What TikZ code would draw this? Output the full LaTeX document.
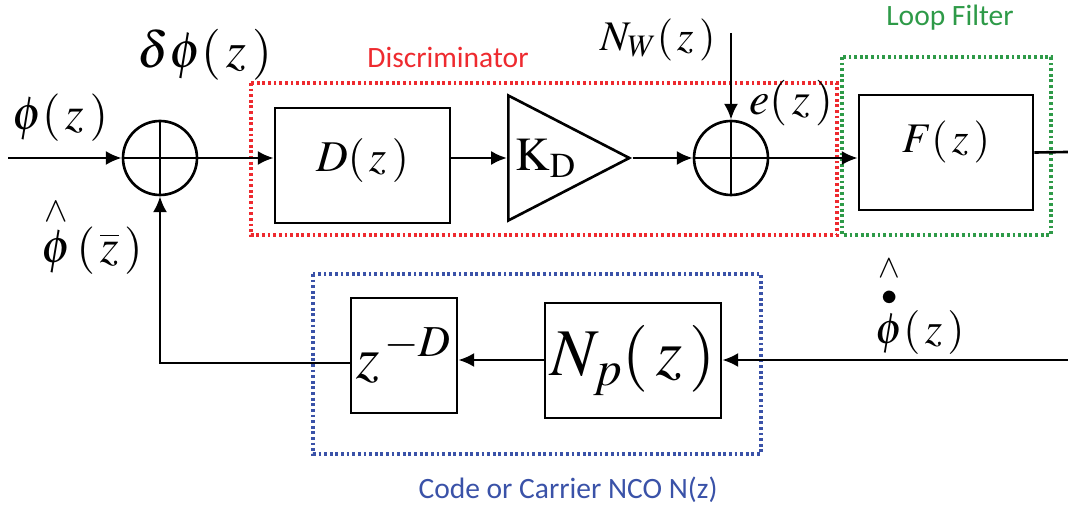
\documentclass[tikz,border=0pt]{standalone}
\usepackage{amsmath,amssymb}
\usepackage{mathptmx}
\usepackage{fontspec}
\newfontfamily\calibri{Carlito}
\usetikzlibrary{calc,positioning,shapes.geometric,arrows.meta}
\definecolor{DiscRed}{HTML}{EE2A2F}
\definecolor{FiltGreen}{HTML}{2E9A48}
\definecolor{NcoBlue}{HTML}{3A52A8}
\newcommand{\argsp}{\mkern2mu}
\tikzset{
  blockNode/.style={rectangle, draw=black, line width=1.5pt, minimum height=2.3cm, inner sep=0pt, font=\fontsize{25pt}{30pt}\selectfont},
  sumNode/.style={circle, draw=black, line width=1.5pt, minimum size=1.48cm, inner sep=0pt,
    path picture={\draw[line width=1.5pt] (path picture bounding box.north) -- (path picture bounding box.south)
      (path picture bounding box.west) -- (path picture bounding box.east);}},
  gainNode/.style={isosceles triangle, isosceles triangle stretches, shape border rotate=0, draw=black, line width=1.5pt, minimum width=2.5cm, minimum height=2.42cm, inner sep=0pt, font=\fontsize{27pt}{30pt}\selectfont},
  signal/.style={-{Latex[length=9pt,width=8pt]}, line width=1.5pt},
  wire/.style={line width=1.5pt},
  groupBox/.style={line width=1.8pt, dash pattern=on 1.6pt off 1.6pt},
  sigLabel/.style={font=\fontsize{27pt}{32pt}\selectfont},
  groupLabel/.style={font=\calibri\fontsize{16.8pt}{20pt}\selectfont}
}

\begin{document}
\begin{tikzpicture}[x=0.02cm, y=-0.02cm]
  \useasboundingbox (0,0) rectangle (1068,506);

  % Grupos
  \draw[groupBox, draw=DiscRed] (251,83) rectangle (837,235);
  \draw[groupBox, draw=FiltGreen] (842,57) rectangle (1051,235);
  \draw[groupBox, draw=NcoBlue] (313,274) rectangle (761,454);
  \node[groupLabel, text=DiscRed] (discLbl) at (448,57) {Discriminator};
  \node[groupLabel, text=FiltGreen] (filtLbl) at (950,18) {Loop Filter};
  \node[groupLabel, text=NcoBlue] (ncoLbl) at (568,490) {Code or Carrier NCO N(z)};

  % Sumadores
  \node[sumNode] (sum1) at (160,158) {};
  \node[sumNode] (sum2) at (731,158) {};

  % Bloques
  \node[blockNode, minimum width=3.5cm, text depth=0.4cm] (dBox) at (362.5,165.5) {$D(\argsp z\argsp)$};
  \node[gainNode, anchor=west] (kd) at (507,158) {$\mathrm{K}_{\mathrm{D}}$};
  \node[blockNode, minimum width=3.48cm, text depth=0.65cm, font=\fontsize{24pt}{30pt}\selectfont] (fBox) at (946,152.5) {$F(\argsp z\argsp)$};
  \node[blockNode, minimum width=2.12cm, font=\fontsize{34pt}{40pt}\selectfont] (zdBox) at (404,355.5) {$z^{\,-D}$};
  \node[blockNode, minimum width=3.52cm, font=\fontsize{38pt}{44pt}\selectfont] (npBox) at (633,360.5) {$N_p(\argsp z\argsp)$};

  % Extremos
  \coordinate (in) at (8,158);
  \coordinate (nw) at (731,33);
  \coordinate (fOut) at (1068,152);
  \coordinate (ncoIn) at (1068,360);

  % Conexiones
  \draw[signal] (in) -- (sum1.west);
  \draw[signal] (sum1.east) -- (sum1.east -| dBox.west);
  \draw[signal] (dBox.east |- kd.west) -- (kd.west);
  \draw[signal] (kd.apex) -- (kd.apex -| sum2.west);
  \draw[signal] (nw) -- (sum2.north);
  \draw[signal] (sum2.east) -- (sum2.east -| fBox.west);
  \draw[wire] (fBox.east) -- (fOut);
  \draw[signal] (ncoIn) -- (ncoIn -| npBox.east);
  \draw[signal] (ncoIn -| npBox.west) -- (ncoIn -| zdBox.east);
  \draw[signal] (zdBox.west |- 0,363) -| (sum1.south);

  % Etiquetas
  \node[sigLabel] (phiLbl) at (60,118) {$\phi(\argsp z\argsp)$};
  \node[sigLabel, font=\fontsize{29pt}{34pt}\selectfont] (dphiLbl) at (205,55) {$\delta\phi(\argsp z\argsp)$};
  \node[sigLabel] (phiHatLbl) at (92,236) {$\overset{\wedge}{\phi}\,(\,\overline{z}\,)$};
  \node[sigLabel, font=\fontsize{24pt}{30pt}\selectfont] (nwLbl) at (658,40) {$N_W(\argsp z\argsp)$};
  \node[sigLabel, font=\fontsize{26pt}{30pt}\selectfont] (eLbl) at (791,103) {$e(\argsp z\argsp)$};
  \node[sigLabel, font=\fontsize{25pt}{30pt}\selectfont] (phiDotLbl) at (920,305) {$\overset{\wedge}{\overset{\bullet}{\phi}}(\argsp z\argsp)$};
\end{tikzpicture}
\end{document}
